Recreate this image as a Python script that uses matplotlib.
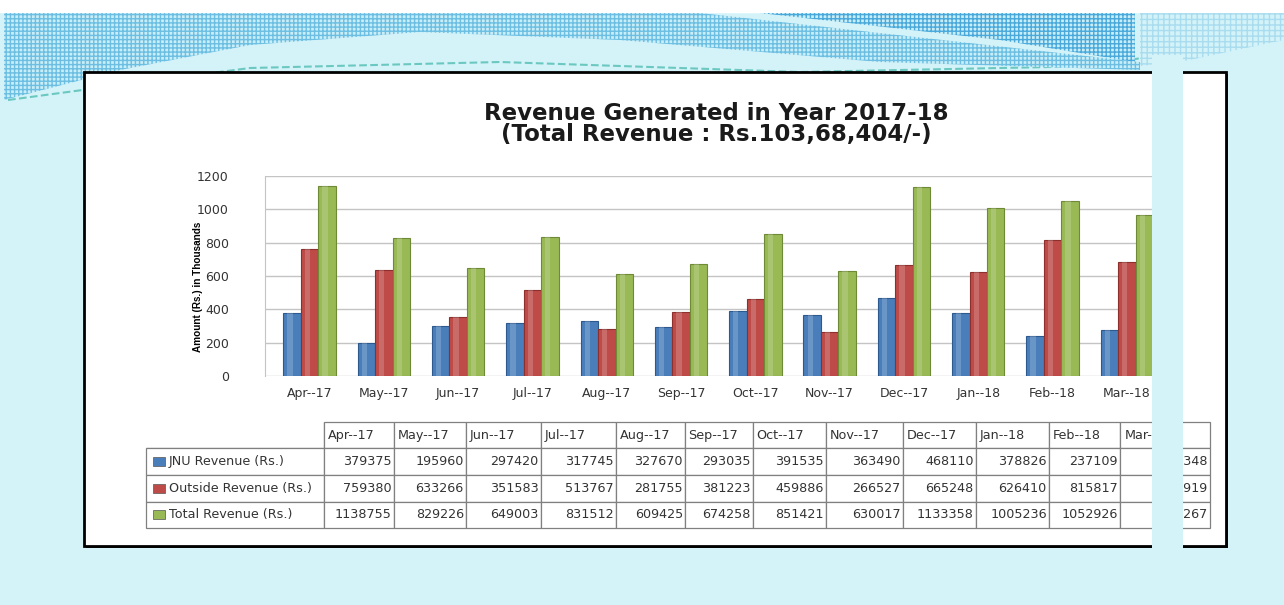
import matplotlib
matplotlib.use('Agg')
from matplotlib import pyplot as plt
from matplotlib.patches import Rectangle, Polygon
import numpy as np

months = ['Apr--17', 'May--17', 'Jun--17', 'Jul--17', 'Aug--17', 'Sep--17',
          'Oct--17', 'Nov--17', 'Dec--17', 'Jan--18', 'Feb--18', 'Mar--18']
jnu = [379375, 195960, 297420, 317745, 327670, 293035,
       391535, 363490, 468110, 378826, 237109, 278348]
outside = [759380, 633266, 351583, 513767, 281755, 381223,
           459886, 266527, 665248, 626410, 815817, 684919]
total = [1138755, 829226, 649003, 831512, 609425, 674258,
         851421, 630017, 1133358, 1005236, 1052926, 963267]
series_names = ['JNU Revenue (Rs.)', 'Outside Revenue (Rs.)', 'Total Revenue (Rs.)']
colors = ['#4a7ebb', '#be4b48', '#98b954']
edges = ['#2c5a8f', '#8c2f2d', '#6e8a36']

W, H = 1284, 605
fig = plt.figure(figsize=(W / 100, H / 100), dpi=100)
fig.patch.set_facecolor('#d4f3f9')
plt.rcParams['hatch.linewidth'] = 1.0


def fig_axes(x0, y0, x1, y1, **kw):
    # axes placed by pixel box (top-left origin)
    return fig.add_axes([x0 / W, 1 - y1 / H, (x1 - x0) / W, (y1 - y0) / H], **kw)


# background slide decoration
bg = fig_axes(0, 0, W, H, zorder=0)
bg.set_xlim(0, W)
bg.set_ylim(H, 0)
bg.axis('off')
bg.add_patch(Rectangle((0, 0), W, 12, color='white'))
bg.add_patch(Polygon([(4, 13), (700, 13), (1140, 62), (1140, 70), (880, 62),
                      (620, 40), (420, 32), (250, 45), (120, 70), (4, 100)],
                     closed=True, facecolor='#c9eef7', edgecolor='#6cbfe2',
                     hatch='++++', lw=0))
bg.add_patch(Polygon([(760, 13), (1135, 13), (1135, 62), (1000, 40)],
                     closed=True, facecolor='#c9eef7', edgecolor='#4aa9db',
                     hatch='++++', lw=0))
bg.add_patch(Polygon([(1140, 13), (1284, 13), (1284, 40), (1180, 62), (1140, 66)],
                     closed=True, facecolor='#d4f3f9', edgecolor='#a8dcee',
                     hatch='+++', lw=0))
bg.plot([8, 120, 250, 500, 800, 1100, 1284], [100, 85, 68, 62, 72, 66, 30],
        color='#3fb6a8', lw=1.5, ls='--', alpha=0.7, zorder=0.5)

# white box with shadowed border
bg.add_patch(Rectangle((86, 74), 1142, 474, color='#222222', lw=0, zorder=1))
bg.add_patch(Rectangle((84, 72), 1142, 474, facecolor='white',
                       edgecolor='black', lw=2, zorder=1.1))

# title
for yy, line in [(113, 'Revenue Generated in Year 2017-18'),
                 (134, '(Total Revenue : Rs.103,68,404/-)')]:
    bg.text(716, yy, line, ha='center', va='center', fontsize=16.5,
            fontweight='bold', family='DejaVu Sans', color='#1a1a1a', zorder=3)

# bar chart
ax = fig_axes(265, 176, 265 + 12.2 * 74.3, 376, zorder=2)
ax.patch.set_alpha(0)
x = np.arange(len(months))
bw = 0.235
for i, (vals, c, e) in enumerate(zip([jnu, outside, total], colors, edges)):
    v = np.array(vals) / 1000
    ax.bar(x + (i - 1) * bw, v, width=bw, color=c, edgecolor=e, lw=0.8, zorder=3)
    ax.bar(x + (i - 1) * bw - bw * 0.12, v, width=bw * 0.3, color='white',
           alpha=0.18, lw=0, zorder=4)
ax.set_xlim(-0.6, len(months) - 0.4)
ax.set_ylim(0, 1200)
ax.set_yticks(range(0, 1201, 200))
ax.set_xticks(x)
ax.set_xticklabels(months, fontsize=9, color='#333333')
ax.tick_params(axis='y', labelsize=9, labelcolor='#333333', length=0, pad=26)
ax.tick_params(axis='x', length=0, pad=8)
ax.grid(axis='y', color='#c4c4c4', lw=1, zorder=0)
for s in ['top', 'right', 'bottom']:
    ax.spines[s].set_visible(False)
ax.spines['left'].set_color('#c4c4c4')
ax.set_ylabel('Amount (Rs.) in Thousands', fontsize=7.2, fontweight='bold',
              family=['Liberation Sans Narrow', 'Liberation Sans'])
ax.yaxis.set_label_coords(-0.068, 0.445)

# data table
tax = fig_axes(146, 422, 1210, 528, zorder=2)
tax.axis('off')
col_w = np.array([178, 70, 72, 75, 75, 69, 68, 73, 77, 73, 73, 71, 90], float)
cell_text = [[name] + [str(v) for v in vals]
             for name, vals in zip(series_names, [jnu, outside, total])]
tbl = tax.table(cellText=cell_text, colLabels=[''] + months,
                colWidths=list(col_w / col_w.sum()), bbox=[0, 0, 1, 1])
tbl.auto_set_font_size(False)
tbl.set_fontsize(9.2)
for (r, c), cell in tbl.get_celld().items():
    cell.set_edgecolor('#808080')
    cell.set_linewidth(0.9)
    cell.get_text().set_color('#333333')
    if r == 0:
        cell._loc = 'left'
        cell.PAD = 0.05
        if c == 0:
            cell.visible_edges = 'BR'
    elif c == 0:
        cell._loc = 'left'
        cell.PAD = 0.13
    else:
        cell._loc = 'right'
        cell.PAD = 0.03
    cell.get_text().set_ha(cell._loc)
for r, c in enumerate(colors):
    yc = 1 - (r + 1.5) * 0.25
    tax.add_patch(Rectangle((7 / col_w.sum(), yc - 4.5 / 106), 12 / col_w.sum(),
                            9 / 106, facecolor=c, edgecolor='#555555', lw=0.5,
                            transform=tax.transAxes, clip_on=False, zorder=5))

# cyan strip that cuts across the slide
ov = fig_axes(0, 0, W, H, zorder=10)
ov.set_xlim(0, W)
ov.set_ylim(H, 0)
ov.axis('off')
ov.patch.set_alpha(0)
ov.add_patch(Rectangle((1152, 55), 31, 500, color='#d4f3f9', lw=0))

fig.savefig('out.png', dpi=100, facecolor=fig.get_facecolor())
